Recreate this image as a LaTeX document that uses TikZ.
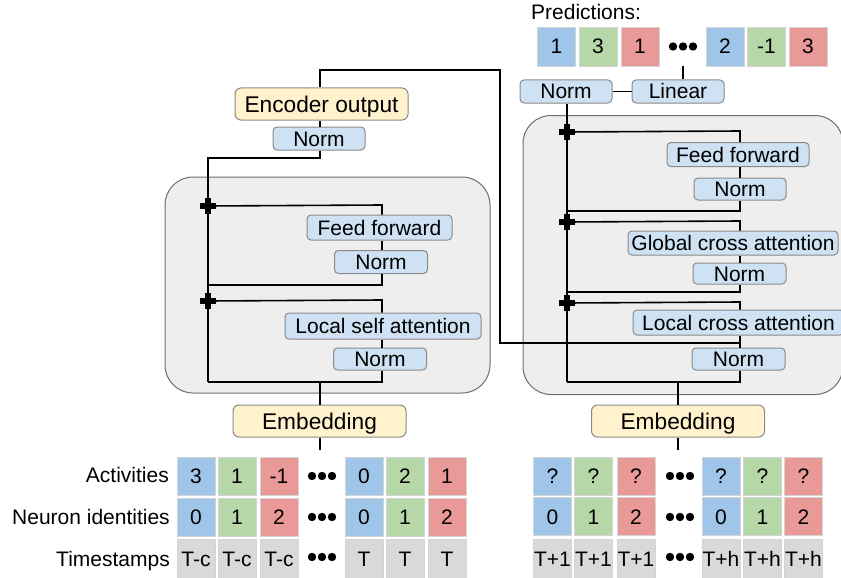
\documentclass[tikz,border=0pt]{standalone}
\usepackage{fontspec}
\setmainfont{Liberation Sans}
\definecolor{boxblue}{HTML}{CFE2F3}
\definecolor{boxyellow}{HTML}{FFF2CC}
\definecolor{bordergray}{HTML}{8A8A8A}
\definecolor{contgray}{HTML}{6E6E6E}
\definecolor{contfill}{HTML}{EEEEEE}
\definecolor{cblue}{HTML}{9FC5E8}
\definecolor{cgreen}{HTML}{B6D7A8}
\definecolor{cred}{HTML}{EA9999}
\definecolor{cgray}{HTML}{D9D9D9}
\definecolor{cellborder}{HTML}{D4D4D4}
\begin{document}
\begin{tikzpicture}[x=1pt,y=-1pt,
  line/.style={line width=1.6pt, black},
  bbox/.style={draw=bordergray, fill=boxblue, line width=1pt, rounded corners=4pt, inner sep=0pt,
    font=\fontsize{21}{25}\selectfont, text height=15pt, text depth=0pt},
  ybox/.style={bbox, fill=boxyellow, font=\fontsize{22.7}{27}\selectfont, text height=16.2pt, text depth=0pt, rounded corners=6pt},
  container/.style={draw=contgray, fill=contfill, line width=1pt, rounded corners=28pt, inner sep=0pt},
  cell/.style={draw=cellborder, line width=0.8pt, minimum width=38pt, minimum height=38pt, inner sep=0pt,
    font=\fontsize{21}{25}\selectfont, text height=15pt, text depth=0pt},
  rowlabel/.style={anchor=base east, inner sep=0pt, font=\fontsize{21}{25}\selectfont},
  pics/plussign/.style={code={\fill[black] (-8,-2.6) rectangle (8,2.6); \fill[black] (-2.6,-8) rectangle (2.6,8);}},
  pics/threedots/.style={code={\foreach \d in {-10,0,10} \fill[black] (\d,0) circle (4.2);}}
]
\useasboundingbox (0,0) rectangle (841,578);

% containers
\node[container, minimum width=325pt, minimum height=216pt] (enc) at (327.5,285) {};
\node[container, minimum width=320pt, minimum height=279pt] (dec) at (683,255) {};

% encoder boxes
\node[ybox, minimum width=173pt, minimum height=32pt] (eo) at (321.5,104) {Encoder output};
\node[bbox, minimum width=92pt, minimum height=23pt] (en0) at (319,138.5) {Norm};
\node[bbox, minimum width=145pt, minimum height=25pt] (eff) at (379.5,227.5) {Feed forward};
\node[bbox, minimum width=93pt, minimum height=23pt] (en1) at (381,262) {Norm};
\node[bbox, minimum width=196pt, minimum height=26pt] (elsa) at (383,326) {Local self attention};
\node[bbox, minimum width=93pt, minimum height=22pt] (en2) at (380,359) {Norm};
\node[ybox, minimum width=173pt, minimum height=32pt] (eemb) at (319.5,421) {Embedding};

% decoder boxes
\node[bbox, minimum width=92pt, minimum height=23pt] (dnorm) at (566,91.5) {Norm};
\node[bbox, minimum width=92pt, minimum height=23pt] (lin) at (678,91.5) {Linear};
\node[bbox, minimum width=142pt, minimum height=24pt] (dff) at (738,154.5) {Feed forward};
\node[bbox, minimum width=92pt, minimum height=22pt] (dn1) at (740,189) {Norm};
\node[bbox, minimum width=210pt, minimum height=24pt] (dgca) at (733,243) {Global cross attention};
\node[bbox, minimum width=93pt, minimum height=21pt] (dn2) at (739.5,273.5) {Norm};
\node[bbox, minimum width=211pt, minimum height=25pt] (dlca) at (738.5,322.5) {Local cross attention};
\node[bbox, minimum width=93pt, minimum height=22pt] (dn3) at (738.5,359) {Norm};
\node[ybox, minimum width=173pt, minimum height=32pt] (demb) at (678,421) {Embedding};

% junction coordinates (encoder)
\coordinate (eJb) at (208,382);  \coordinate (eRb) at (382,382);
\coordinate (eP1) at (208,301);  \coordinate (eRt1) at (382,300);
\coordinate (eJm) at (208,285);  \coordinate (eRm) at (382,285);
\coordinate (eP2) at (208,206);  \coordinate (eRt2) at (382,205);
\coordinate (eTop) at (208,158); \coordinate (eTopR) at (320,158);
\coordinate (eEmbJ) at (320,382); \coordinate (eTail) at (320,450);
\coordinate (eoT) at (320,70); \coordinate (eoR) at (500,70); \coordinate (eoD) at (500,343);
\coordinate (dIn) at (740,343);

% junction coordinates (decoder)
\coordinate (dJb) at (567,382);  \coordinate (dRb) at (740,382);
\coordinate (dP1) at (567,303);  \coordinate (dRt1) at (740,302);
\coordinate (dJm2) at (567,292); \coordinate (dRm2) at (740,292);
\coordinate (dP2) at (567,222);  \coordinate (dRt2) at (740,221);
\coordinate (dJm3) at (567,211); \coordinate (dRm3) at (740,211);
\coordinate (dP3) at (567,132);  \coordinate (dRt3) at (740,131);
\coordinate (dEmbJ) at (678,382); \coordinate (dTail) at (678,450);
\coordinate (pJ) at (683,66);

% encoder connectors
\draw[line] (eJb) -- (eRb) -- (eRb |- en2.south);
\draw[line] (eRb |- en2.north) -- (eRb |- elsa.south);
\draw[line] (eRb |- elsa.north) -- (eRt1) -- (eP1);
\draw[line] (eJb) -- (eTop) -- (eTopR) -- (eTopR |- en0.south);
\draw[line] (eJm) -- (eRm) -- (eRm |- en1.south);
\draw[line] (eRm |- en1.north) -- (eRm |- eff.south);
\draw[line] (eRm |- eff.north) -- (eRt2) -- (eP2);
\draw[line] (eTopR |- en0.north) -- (eTopR |- eo.south);
\draw[line] (eTopR |- eo.north) -- (eoT) -- (eoR) -- (eoD) -- (dIn);
\draw[line] (eEmbJ) -- (eEmbJ |- eemb.north);
\draw[line] (eEmbJ |- eemb.south) -- (eTail);

% decoder connectors
\draw[line] (dJb) -- (dRb) -- (dRb |- dn3.south);
\draw[line] (dRb |- dn3.north) -- (dRb |- dlca.south);
\draw[line] (dRb |- dlca.north) -- (dRt1) -- (dP1);
\draw[line] (dJm2) -- (dRm2) -- (dRm2 |- dn2.south);
\draw[line] (dRm2 |- dn2.north) -- (dRm2 |- dgca.south);
\draw[line] (dRm2 |- dgca.north) -- (dRt2) -- (dP2);
\draw[line] (dJm3) -- (dRm3) -- (dRm3 |- dn1.south);
\draw[line] (dRm3 |- dn1.north) -- (dRm3 |- dff.south);
\draw[line] (dRm3 |- dff.north) -- (dRt3) -- (dP3);
\draw[line] (dJb) -- (dJb |- dnorm.south);
\draw[line] (dnorm.east) -- (lin.west);
\draw[line] (pJ |- lin.north) -- (pJ);
\draw[line] (dEmbJ) -- (dEmbJ |- demb.north);
\draw[line] (dEmbJ |- demb.south) -- (dTail);

% plus signs
\foreach \p in {eP1,eP2,dP1,dP2,dP3} \pic at (\p) {plussign};

% predictions
\node[anchor=base west, inner sep=0pt, font=\fontsize{21}{25}\selectfont] (predlabel) at (531,20) {Predictions:};
\foreach \x/\c/\t [count=\i] in {556.5/cblue/1, 598/cgreen/3, 640/cred/1, 725/cblue/2, 766.5/cgreen/-1, 808/cred/3}
  \node[cell, fill=\c, minimum height=39pt] (p\i) at (\x,46.5) {\t};
\pic at (683,46.5) {threedots};

% encoder table
\node[rowlabel] (lab1) at (169,482) {Activities};
\node[rowlabel] (lab2) at (170,524) {Neuron identities};
\node[rowlabel] (lab3) at (170,566.5) {Timestamps};
\foreach \x/\c/\t [count=\i] in {196/cblue/3, 237/cgreen/1, 279/cred/-1, 364/cblue/0, 405/cgreen/2, 447/cred/1}
  \node[cell, fill=\c] (ea\i) at (\x,476) {\t};
\foreach \x/\c/\t [count=\i] in {196/cblue/0, 237/cgreen/1, 279/cred/2, 364/cblue/0, 405/cgreen/1, 447/cred/2}
  \node[cell, fill=\c] (en\i) at (\x,517) {\t};
\foreach \x/\t [count=\i] in {196/T-c, 237/T-c, 279/T-c, 364/T, 405/T, 447/T}
  \node[cell, fill=cgray, minimum height=39pt] (et\i) at (\x,558.5) {\t};
\foreach \y in {476,517,557} \pic at (322,\y) {threedots};

% decoder table
\foreach \x/\c [count=\i] in {552.5/cblue, 593.5/cgreen, 636/cred, 721/cblue, 762.5/cgreen, 803.5/cred}
  \node[cell, fill=\c] (da\i) at (\x,476) {?};
\foreach \x/\c/\t [count=\i] in {552.5/cblue/0, 593.5/cgreen/1, 636/cred/2, 721/cblue/0, 762.5/cgreen/1, 803.5/cred/2}
  \node[cell, fill=\c] (dn\i x) at (\x,516.5) {\t};
\foreach \x/\t [count=\i] in {552.5/T+1, 593.5/T+1, 636/T+1, 721/T+h, 762.5/T+h, 803.5/T+h}
  \node[cell, fill=cgray, minimum height=39pt] (dt\i) at (\x,558.5) {\t};
\foreach \y in {476,517,557} \pic at (680,\y) {threedots};
\end{tikzpicture}
\end{document}
